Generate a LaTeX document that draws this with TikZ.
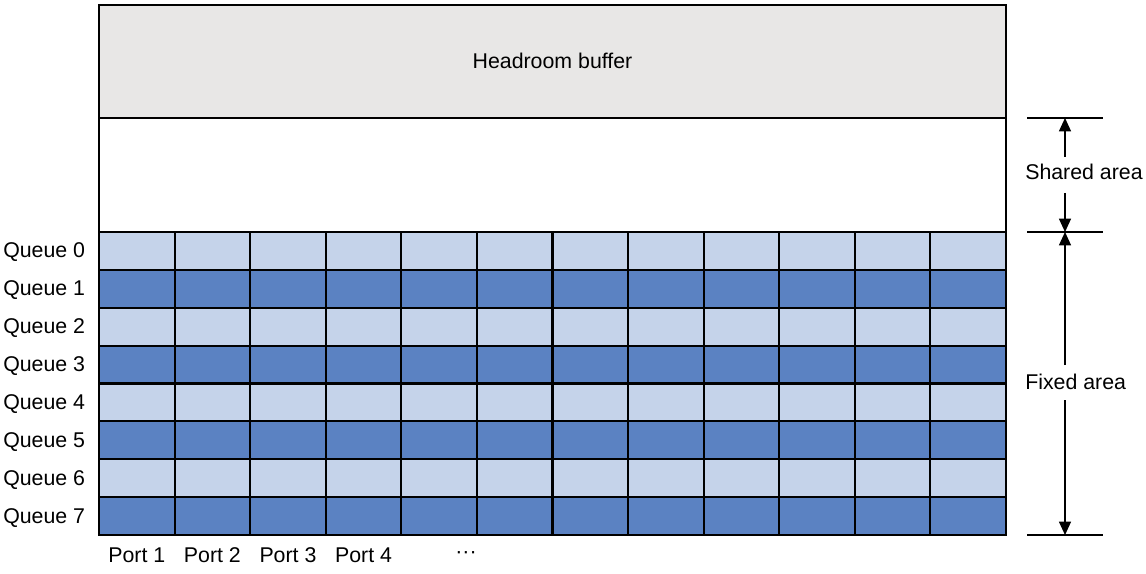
\documentclass[tikz,border=0pt]{standalone}
\usepackage{fontspec}
\setmainfont{Liberation Sans}
\usetikzlibrary{arrows.meta}
\definecolor{lightq}{RGB}{197,211,234}
\definecolor{darkq}{RGB}{91,130,194}
\definecolor{headgray}{RGB}{232,231,230}
\begin{document}
\begin{tikzpicture}[x=0.75pt,y=-0.75pt,
  grid/.style={draw=black,line width=1.6pt},
  lbl/.style={font=\fontsize{16pt}{19pt}\selectfont,inner sep=0pt},
  dim/.style={draw=black,line width=0.9pt},
  arr/.style={draw=black,line width=0.9pt,-{Triangle[length=10pt,width=9pt]}}]
\useasboundingbox (0,0) rectangle (1146,574);
% headroom and shared
\node[grid,fill=headgray,minimum width=907*0.75pt,minimum height=113*0.75pt,inner sep=0pt] (head) at (552.5,61.5) {};
\node[lbl] (headtxt) at (552.5,61) {Headroom buffer};
\node[grid,fill=white,minimum width=907*0.75pt,minimum height=114*0.75pt,inner sep=0pt] (shared) at (552.5,175) {};
% grid cells
\foreach \r in {0,...,7}{
  \pgfmathsetmacro{\yt}{232+\r*37.875}
  \pgfmathsetmacro{\yb}{232+(\r+1)*37.875}
  \ifodd\r \def\cc{darkq}\else\def\cc{lightq}\fi
  \foreach \c in {0,...,11}{
    \pgfmathsetmacro{\xl}{99+\c*75.583}
    \pgfmathsetmacro{\xr}{99+(\c+1)*75.583}
    \path[grid,fill=\cc] (\xl,\yt) rectangle (\xr,\yb);
  }
  \node[lbl,anchor=base west] (q\r) at (3,{232+(\r+0.5)*37.875+7}) {Queue \r};
}
% port labels
\foreach \c in {1,...,4}{
  \node[lbl,anchor=base] (p\c) at ({99+(\c-0.5)*75.583},562) {Port \c};
}
\node[lbl,anchor=base] (dots) at (466,558) {···};
% dimension lines
\coordinate (t1) at (1065,118);
\coordinate (t2) at (1065,232);
\coordinate (t3) at (1065,535);
\draw[dim] (1027,118) -- (1103,118);
\draw[dim] (1027,232) -- (1103,232);
\draw[dim] (1027,535) -- (1103,535);
\node[lbl,anchor=base west] (sh) at (1025,180) {Shared area};
\node[lbl,anchor=base west] (fx) at (1025,389) {Fixed area};
\coordinate (s1) at (1065,157);
\coordinate (s2) at (1065,193);
\coordinate (f1) at (1065,365);
\coordinate (f2) at (1065,400);
\draw[arr] (s1) -- (t1);
\draw[arr] (s2) -- (t2);
\draw[arr] (f1) -- (t2);
\draw[arr] (f2) -- (t3);
\end{tikzpicture}
\end{document}
